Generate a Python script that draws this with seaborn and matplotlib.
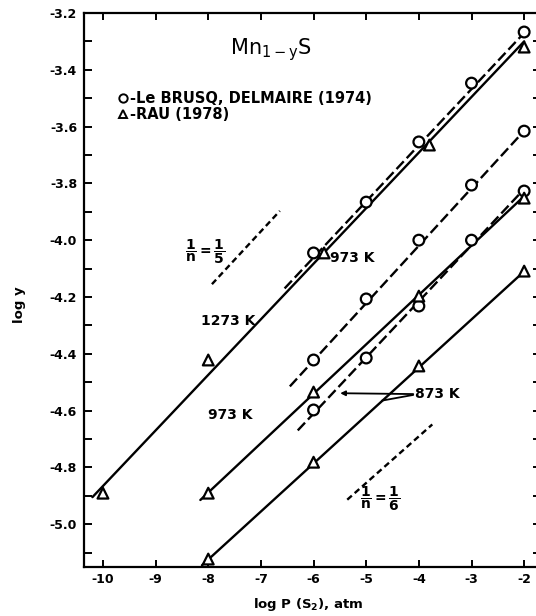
import matplotlib
matplotlib.use("Agg")
import numpy as np
import pandas as pd
import matplotlib.pyplot as plt
import seaborn as sns
from matplotlib.lines import Line2D
from matplotlib.ticker import MultipleLocator, FormatStrFormatter

# Measured points: Le Brusq & Delmaire (1974), circles
lb_x = [-6, -5, -4, -3, -2]
lb_y_1273 = [-4.045, -3.866, -3.654, -3.447, -3.267]
lb_y_973 = [-4.422, -4.207, -4.000, -3.806, -3.616]
lb_y_873 = [-4.598, -4.415, -4.232, -4.000, -3.827]

# Measured points: Rau (1978), triangles
rau_x_1273 = [-10, -8, -5.8, -3.8, -2]
rau_y_1273 = [-4.891, -4.422, -4.045, -3.665, -3.320]
rau_x_low = [-8, -6, -4, -2]
rau_y_973 = [-4.891, -4.535, -4.197, -3.852]
rau_y_873 = [-5.123, -4.782, -4.443, -4.109]

# Fitted isotherms (end points) and reference slopes 1/n
fit_1273_rau_x, fit_1273_rau_y = [-10.2, -2.0], [-4.905, -3.300]
fit_1273_lb_x, fit_1273_lb_y = [-6.55, -2.0], [-4.170, -3.270]
fit_973_lb_x, fit_973_lb_y = [-6.45, -2.0], [-4.515, -3.615]
fit_973_rau_x, fit_973_rau_y = [-8.15, -2.0], [-4.915, -3.845]
fit_873_lb_x, fit_873_lb_y = [-6.3, -2.0], [-4.670, -3.820]
fit_873_rau_x, fit_873_rau_y = [-8.12, -2.0], [-5.145, -4.110]
slope5_x, slope5_y = [-7.93, -6.64], [-4.155, -3.897]
slope6_x, slope6_y = [-5.36, -3.745], [-4.914, -4.649]

x_ticks = [-10, -9, -8, -7, -6, -5, -4, -3, -2]

sns.set_theme(style="ticks")
plt.rcParams.update({
    "font.family": ["DejaVu Sans"],
    "axes.unicode_minus": False,
    "mathtext.default": "bf",
    "axes.linewidth": 1.6,
    "xtick.direction": "in",
    "ytick.direction": "in",
    "axes.edgecolor": "black",
    "text.color": "black",
    "axes.labelcolor": "black",
    "xtick.color": "black",
    "ytick.color": "black",
})

fig = plt.figure(figsize=(5.36, 6.16), dpi=100)
ax = fig.add_axes([84 / 536, 49 / 616, 457 / 536, 554 / 616])

solid = "-"
long_dash = (0, (4.5, 1.8))
short_dash = (0, (2.6, 1.6))

fits = [
    (fit_1273_rau_x, fit_1273_rau_y, solid),
    (fit_1273_lb_x, fit_1273_lb_y, long_dash),
    (fit_973_lb_x, fit_973_lb_y, long_dash),
    (fit_973_rau_x, fit_973_rau_y, solid),
    (fit_873_lb_x, fit_873_lb_y, long_dash),
    (fit_873_rau_x, fit_873_rau_y, solid),
    (slope5_x, slope5_y, short_dash),
    (slope6_x, slope6_y, short_dash),
]
for fx, fy, ls in fits:
    sns.lineplot(x=fx, y=fy, ax=ax, color="black", lw=1.7, linestyle=ls,
                 sort=False, estimator=None, zorder=2)

frames = []
for y in (lb_y_1273, lb_y_973, lb_y_873):
    frames.append(pd.DataFrame({"x": lb_x, "y": y, "source": "LB"}))
frames.append(pd.DataFrame({"x": rau_x_1273, "y": rau_y_1273, "source": "RAU"}))
for y in (rau_y_973, rau_y_873):
    frames.append(pd.DataFrame({"x": rau_x_low, "y": y, "source": "RAU"}))
pts = pd.concat(frames, ignore_index=True)

sns.scatterplot(data=pts, x="x", y="y", style="source",
                markers={"LB": "o", "RAU": "^"}, s=60,
                facecolor="white", edgecolor="black", linewidth=1.6,
                legend=False, ax=ax, zorder=3)

ax.set_xlim(-10.36, -1.68)
ax.set_ylim(-5.151, -3.2)
ax.set_xticks(x_ticks)
ax.xaxis.set_major_formatter(FormatStrFormatter("%d"))
ax.yaxis.set_major_locator(MultipleLocator(0.2))
ax.yaxis.set_minor_locator(MultipleLocator(0.1))
ax.yaxis.set_major_formatter(FormatStrFormatter("%.1f"))
ax.tick_params(axis="both", which="both", top=True, right=True,
               width=1.4, color="black")
ax.tick_params(axis="y", which="major", length=6, pad=5, labelsize=9)
ax.tick_params(axis="y", which="minor", length=6)
ax.tick_params(axis="x", which="major", length=5, pad=4, labelsize=9)
for lab in ax.get_xticklabels() + ax.get_yticklabels():
    lab.set_fontweight("bold")
for sp in ax.spines.values():
    sp.set_linewidth(1.6)

ax.set_xlabel(r"log P (S$_2$), atm", fontsize=9.5, fontweight="bold")
ax.set_ylabel("log y", fontsize=9.5, fontweight="bold")
ax.xaxis.set_label_coords(0.49, -0.052)
ax.yaxis.set_label_coords(-0.127, 0.473)

ax.text(-6.8, -3.33, r"Mn$_{\mathrm{1-y}}$S", fontsize=15, ha="center",
        va="center")

handles = [
    Line2D([], [], marker="o", ls="none", mfc="white", mec="black", mew=1.4, ms=6),
    Line2D([], [], marker="^", ls="none", mfc="white", mec="black", mew=1.4, ms=6),
]
ax.legend(handles, ["-Le BRUSQ, DELMAIRE (1974)", "-RAU (1978)"],
          loc="upper left", bbox_to_anchor=(34 / 457, (567 - 91) / 554),
          frameon=False, borderpad=0, borderaxespad=0, handlelength=0.7,
          handletextpad=0.1, labelspacing=0.05,
          prop={"weight": "bold", "size": 10.5})

lab_kw = dict(fontsize=10, fontweight="bold", ha="center", va="center")
ax.text(-7.62, -4.285, "1273 K", **lab_kw)
ax.text(-5.27, -4.062, "973 K", **lab_kw)
ax.text(-7.59, -4.616, "973 K", **lab_kw)
ax.text(-3.65, -4.542, "873 K", **lab_kw)
ax.annotate("", xy=(-5.494, -4.539), xytext=(-4.107, -4.542),
            arrowprops=dict(arrowstyle="-|>", lw=1.3, color="black",
                            mutation_scale=7, shrinkA=0, shrinkB=0))
ax.annotate("", xy=(-4.70, -4.565), xytext=(-4.107, -4.545),
            arrowprops=dict(arrowstyle="-", lw=1.3, color="black",
                            shrinkA=0, shrinkB=0))

ax.text(-8.06, -4.042, r"$\dfrac{1}{n}=\dfrac{1}{5}$", fontsize=10,
        ha="center", va="center")
ax.text(-4.73, -4.912, r"$\dfrac{1}{n}=\dfrac{1}{6}$", fontsize=10,
        ha="center", va="center")

fig.savefig("out.png", dpi=100)
